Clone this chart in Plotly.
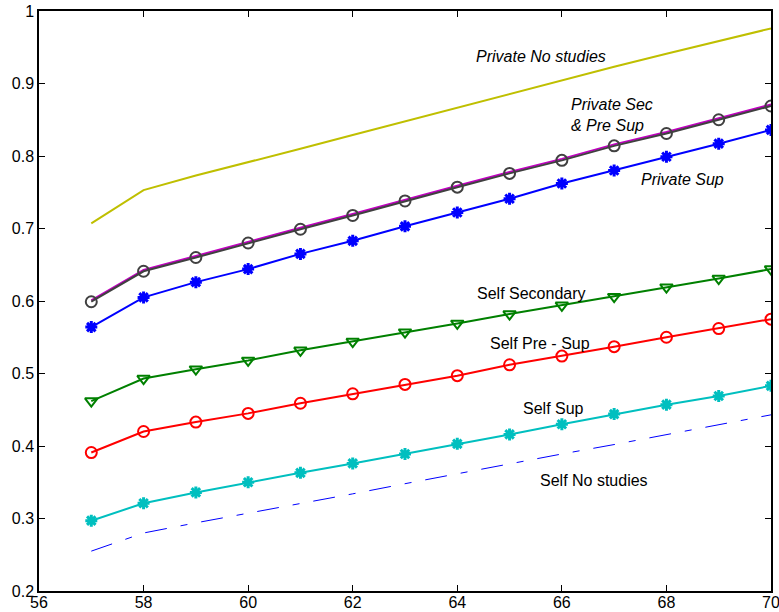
import plotly.graph_objects as go

ages = list(range(57, 71))

private_no_studies = [0.707, 0.753, 0.773, 0.791, 0.810, 0.829, 0.848, 0.867, 0.886, 0.905, 0.923, 0.941, 0.959, 0.976]
private_sec_presup = [0.601, 0.643, 0.662, 0.682, 0.701, 0.720, 0.740, 0.759, 0.778, 0.796, 0.816, 0.833, 0.852, 0.871]
private_sec_circ   = [0.599, 0.641, 0.660, 0.680, 0.699, 0.718, 0.738, 0.757, 0.776, 0.794, 0.814, 0.831, 0.850, 0.869]
private_sup        = [0.564, 0.605, 0.626, 0.644, 0.665, 0.683, 0.703, 0.722, 0.741, 0.762, 0.780, 0.799, 0.817, 0.836]
self_secondary     = [0.462, 0.493, 0.506, 0.518, 0.532, 0.544, 0.557, 0.569, 0.582, 0.594, 0.606, 0.619, 0.631, 0.644]
self_pre_sup       = [0.391, 0.420, 0.433, 0.445, 0.459, 0.472, 0.485, 0.497, 0.512, 0.524, 0.537, 0.550, 0.562, 0.575]
self_sup           = [0.297, 0.321, 0.336, 0.350, 0.363, 0.376, 0.389, 0.403, 0.416, 0.430, 0.444, 0.457, 0.469, 0.483]
self_no_studies    = [0.255, 0.280, 0.294, 0.307, 0.321, 0.334, 0.348, 0.362, 0.375, 0.389, 0.402, 0.416, 0.430, 0.443]

x_ticks = [56, 58, 60, 62, 64, 66, 68, 70]
y_ticks = [0.2, 0.3, 0.4, 0.5, 0.6, 0.7, 0.8, 0.9, 1]
y_tick_labels = ["0.2", "0.3", "0.4", "0.5", "0.6", "0.7", "0.8", "0.9", "1"]

fig = go.Figure()

fig.add_trace(go.Scatter(x=ages, y=private_no_studies, mode="lines",
                         line=dict(color="#BFBF00", width=2), name="Private No studies"))
fig.add_trace(go.Scatter(x=ages, y=private_sec_presup, mode="lines",
                         line=dict(color="#BF00BF", width=2), name="Private Pre Sup"))
fig.add_trace(go.Scatter(x=ages, y=private_sec_circ, mode="lines+markers",
                         line=dict(color="#404040", width=2),
                         marker=dict(symbol="circle-open", size=11, color="#404040", line=dict(width=2)),
                         name="Private Sec"))
fig.add_trace(go.Scatter(x=ages, y=private_sup, mode="lines+markers",
                         line=dict(color="#0000FF", width=2),
                         marker=dict(symbol="asterisk-open", size=10, color="#0000FF", line=dict(width=3)),
                         name="Private Sup"))
fig.add_trace(go.Scatter(x=ages, y=self_secondary, mode="lines+markers",
                         line=dict(color="#008000", width=2),
                         marker=dict(symbol="triangle-down-open", size=11, color="#008000", line=dict(width=2)),
                         name="Self Secondary"))
fig.add_trace(go.Scatter(x=ages, y=self_pre_sup, mode="lines+markers",
                         line=dict(color="#FF0000", width=2),
                         marker=dict(symbol="circle-open", size=11, color="#FF0000", line=dict(width=2)),
                         name="Self Pre - Sup"))
fig.add_trace(go.Scatter(x=ages, y=self_sup, mode="lines+markers",
                         line=dict(color="#00BFBF", width=2),
                         marker=dict(symbol="asterisk-open", size=10, color="#00BFBF", line=dict(width=3)),
                         name="Self Sup"))
fig.add_trace(go.Scatter(x=ages, y=self_no_studies, mode="lines",
                         line=dict(color="#0000FF", width=1, dash="22px,14px,7px,14px"), name="Self No studies"))

font_fam = "Liberation Sans, Arial, sans-serif"
labels = [
    ("<i>Private No studies</i>", 65.61, 0.937, "center"),
    ("<i>Private Sec<br>&amp; Pre Sup</i>", 66.13, 0.856, "left"),
    ("<i>Private Sup</i>", 68.31, 0.767, "center"),
    ("Self Secondary", 65.42, 0.611, "center"),
    ("Self Pre - Sup", 65.59, 0.541, "center"),
    ("Self Sup", 65.84, 0.452, "center"),
    ("Self No studies", 66.61, 0.353, "center"),
]
for txt, ax_x, ax_y, anch in labels:
    fig.add_annotation(x=ax_x, y=ax_y, xref="x", yref="y", text=txt, showarrow=False,
                       xanchor=anch, yanchor="middle", align="left",
                       font=dict(family=font_fam, size=16, color="black"))

axis_common = dict(showline=True, linecolor="black", linewidth=1.5, mirror="ticks",
                   ticks="inside", ticklen=6, tickcolor="black", showgrid=False, zeroline=False,
                   automargin=False, ticklabeloverflow="allow",
                   tickfont=dict(family=font_fam, size=16, color="black"))

fig.update_layout(
    width=779, height=612,
    margin=dict(l=39, r=8, t=11, b=21),
    paper_bgcolor="white", plot_bgcolor="white",
    showlegend=False,
    xaxis=dict(range=[56, 70], tickvals=x_ticks, ticklabelstandoff=-4, **axis_common),
    yaxis=dict(range=[0.2, 1], tickvals=y_ticks, ticktext=y_tick_labels, **axis_common),
)

fig.write_html("out.html", config={"displayModeBar": False},
               post_script="document.body.style.margin='0';document.body.style.overflow='hidden';")
